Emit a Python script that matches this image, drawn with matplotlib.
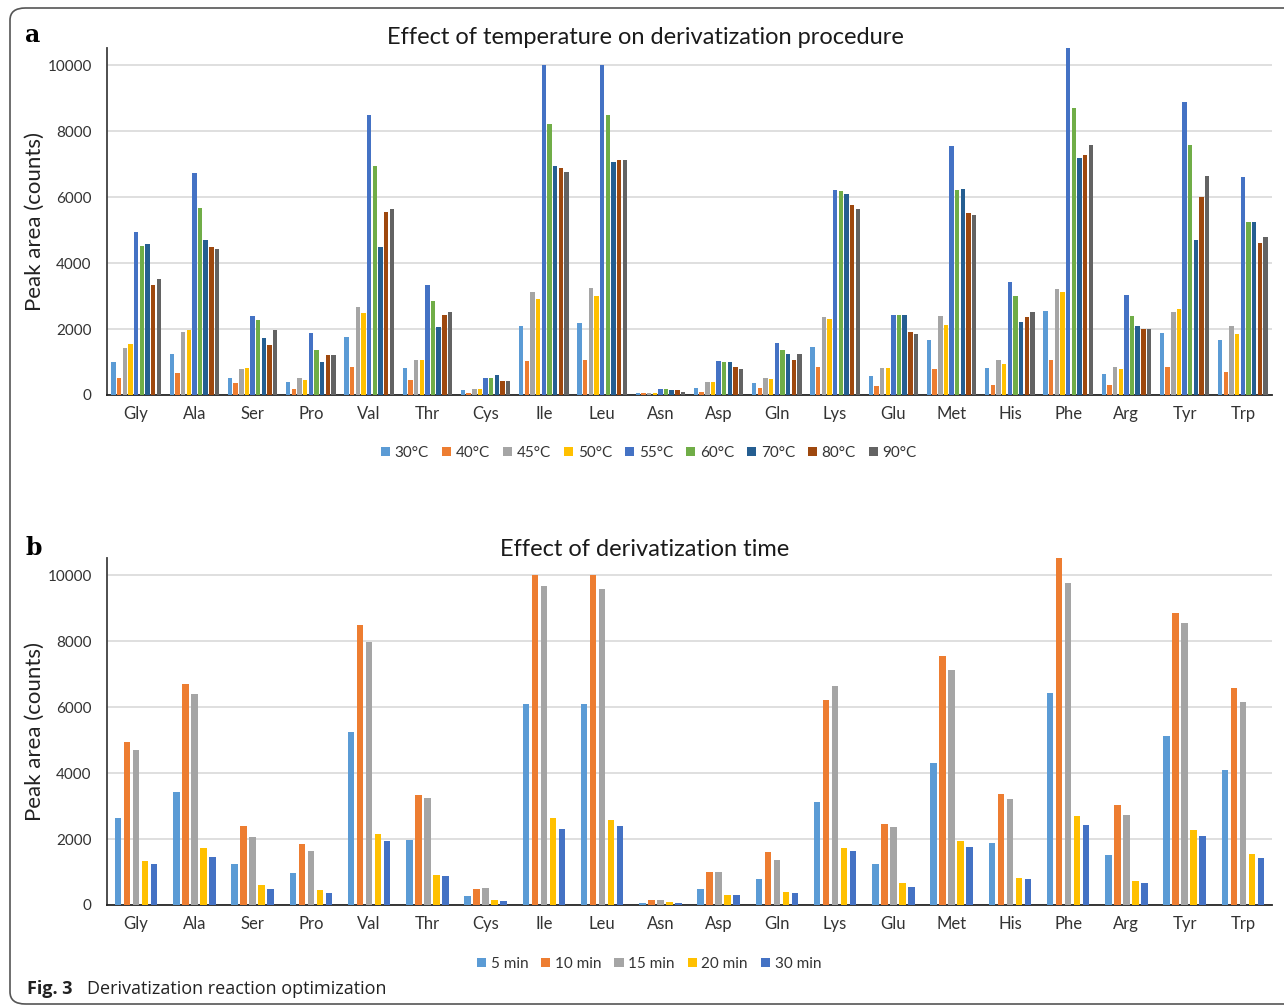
import numpy as np
import matplotlib.pyplot as plt
from matplotlib.patches import FancyBboxPatch

plt.rcParams['font.family'] = ['Lato', 'DejaVu Sans']

amino = ['Gly', 'Ala', 'Ser', 'Pro', 'Val', 'Thr', 'Cys', 'Ile', 'Leu', 'Asn',
         'Asp', 'Gln', 'Lys', 'Glu', 'Met', 'His', 'Phe', 'Arg', 'Tyr', 'Trp']

# panel a: temperature series (values per amino acid, Gly..Trp)
temp_labels = ['30°C', '40°C', '45°C', '50°C', '55°C', '60°C', '70°C', '80°C', '90°C']
t30 = [1000, 1240, 515, 395, 1750, 820, 140, 2100, 2180, 50, 220, 355, 1455, 565, 1665, 820, 2555, 645, 1880, 1665]
t40 = [515, 655, 355, 180, 860, 445, 60, 1030, 1070, 50, 100, 220, 860, 265, 780, 315, 1070, 315, 860, 690]
t45 = [1415, 1920, 780, 525, 2655, 1070, 180, 3110, 3250, 50, 395, 515, 2355, 820, 2395, 1070, 3200, 860, 2515, 2090]
t50 = [1545, 1980, 830, 445, 2485, 1070, 180, 2910, 3000, 50, 395, 475, 2305, 820, 2130, 950, 3110, 780, 2605, 1840]
t55 = [4950, 6735, 2395, 1880, 8475, 3335, 515, 10000, 10000, 180, 1030, 1585, 6220, 2435, 7535, 3415, 10515, 3030, 8870, 6605]
t60 = [4515, 5665, 2265, 1375, 6950, 2860, 515, 8220, 8485, 180, 990, 1365, 6180, 2435, 6220, 2990, 8695, 2395, 7585, 5240]
t70 = [4565, 4690, 1715, 990, 4475, 2050, 605, 6950, 7070, 140, 990, 1240, 6090, 2435, 6260, 2220, 7200, 2090, 4690, 5240]
t80 = [3335, 4475, 1505, 1200, 5545, 2435, 435, 6870, 7120, 140, 860, 1070, 5755, 1920, 5505, 2355, 7280, 2010, 6010, 4605]
t90 = [3505, 4435, 1970, 1200, 5625, 2525, 435, 6775, 7120, 100, 780, 1240, 5625, 1840, 5455, 2515, 7575, 2010, 6645, 4775]
temp_series = [t30, t40, t45, t50, t55, t60, t70, t80, t90]
temp_colors = ['#5B9BD5', '#ED7D31', '#A5A5A5', '#FFC000', '#4472C4',
               '#70AD47', '#255E91', '#9E480E', '#636363']

# panel b: derivatization time series
time_labels = ['5 min', '10 min', '15 min', '20 min', '30 min']
m5 = [2645, 3415, 1250, 960, 5250, 1980, 270, 6100, 6100, 60, 475, 780, 3120, 1250, 4315, 1890, 6435, 1505, 5120, 4100]
m10 = [4950, 6695, 2395, 1850, 8485, 3335, 485, 10000, 10000, 140, 990, 1595, 6220, 2445, 7545, 3375, 10535, 3030, 8840, 6565]
m15 = [4685, 6395, 2060, 1635, 7980, 3250, 525, 9675, 9595, 140, 990, 1375, 6645, 2365, 7120, 3210, 9755, 2735, 8535, 6140]
m20 = [1335, 1715, 615, 445, 2140, 910, 150, 2645, 2565, 80, 315, 405, 1715, 655, 1930, 820, 2695, 735, 2275, 1545]
m30 = [1250, 1465, 485, 365, 1930, 870, 130, 2315, 2395, 60, 315, 355, 1625, 555, 1755, 780, 2435, 655, 2100, 1425]
time_series = [m5, m10, m15, m20, m30]
time_colors = ['#5B9BD5', '#ED7D31', '#A5A5A5', '#FFC000', '#4472C4']

W, H = 1284, 1008
fig = plt.figure(figsize=(W / 100, H / 100), dpi=100)

# rounded frame around the figure
frame = FancyBboxPatch((10 / W, 4 / H), 1.2, (1000 - 4) / H,
                       boxstyle='round,pad=0,rounding_size=0.012',
                       transform=fig.transFigure, fill=False,
                       edgecolor='#555555', linewidth=1.2, clip_on=False)
fig.patches.append(frame)


def bar_panel(rect, series, colors, labels, slot, width, title, letter, title_y, leg_y):
    ax = fig.add_axes(rect)
    x = np.arange(len(amino))
    n = len(series)
    for i, (vals, c, lab) in enumerate(zip(series, colors, labels)):
        offs = (i - (n - 1) / 2) * slot
        ax.bar(x + offs, vals, width=width, color=c, label=lab, zorder=3)
    ax.set_xlim(-0.5, 19.5)
    ax.set_ylim(0, 10520)
    ax.set_yticks(range(0, 10001, 2000))
    ax.set_xticks(x)
    ax.set_xticklabels(amino, fontsize=12, color='#333333')
    ax.tick_params(axis='y', labelsize=11, colors='#333333', length=0, pad=11)
    ax.tick_params(axis='x', length=0, pad=8)
    ax.grid(axis='y', color='#d9d9d9', linewidth=1.2, zorder=0)
    for s in ['top', 'right']:
        ax.spines[s].set_visible(False)
    ax.spines['left'].set_color('#404040')
    ax.spines['left'].set_linewidth(1.3)
    ax.spines['bottom'].set_color('#262626')
    ax.spines['bottom'].set_linewidth(1.3)
    ax.set_ylabel('Peak area (counts)', fontsize=16, color='#222222', labelpad=2)
    fig.text(645 / W, 1 - title_y / H, title, fontsize=17, color='#1a1a1a',
             ha='center', va='center')
    fig.text(25 / W, 1 - (title_y - 2) / H, letter, fontsize=17,
             fontweight='bold', family='DejaVu Serif', va='center')
    ax.legend(loc='center', bbox_to_anchor=(649 / W, 1 - leg_y / H),
              bbox_transform=fig.transFigure, ncol=n, frameon=False,
              fontsize=11, handlelength=0.6, handleheight=0.6,
              handletextpad=0.3, columnspacing=0.85, labelcolor='#333333')
    return ax


bar_panel([107 / W, 1 - 395 / H, 1165 / W, 347 / H], temp_series, temp_colors,
          temp_labels, 0.097, 0.075,
          'Effect of temperature on derivatization procedure', 'a', 37, 453)
bar_panel([107 / W, 1 - 905 / H, 1165 / W, 347 / H], time_series, time_colors,
          time_labels, 0.155, 0.11,
          'Effect of derivatization time', 'b', 550, 964)

fig.text(27 / W, 1 - 989 / H, 'Fig. 3', fontsize=13, fontweight='bold',
         family='Open Sans', va='center', color='#222222')
fig.text(87 / W, 1 - 989 / H, 'Derivatization reaction optimization', fontsize=13,
         family='Open Sans', va='center', color='#222222')

fig.savefig('out.png', dpi=100)
